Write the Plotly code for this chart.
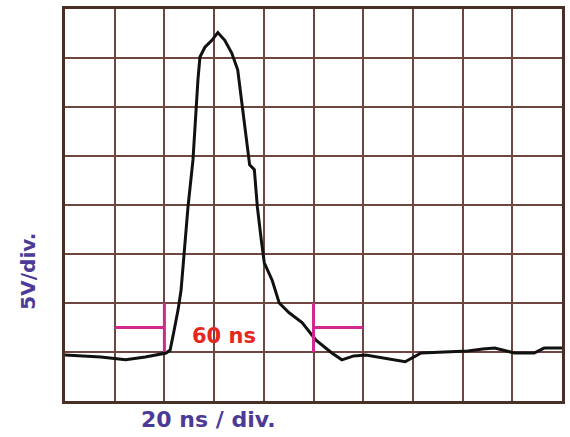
import plotly.graph_objects as go

# time (ns) and voltage (V)
time_ns = [0, 6.4, 14.4, 24.4, 32.3, 40.7, 42.3, 43.9, 45.5, 46.7, 47.9, 49.5, 51.5, 52.7,
           53.5, 54.3, 56.3, 59.1, 61.5, 64.3, 67.1, 69.5, 71.5, 73.5, 74.3, 76.2, 77.4,
           79.0, 80.2, 83.4, 86.2, 90.2, 95.4, 101.0, 107.4, 111.4, 116.2, 121.0, 126.1,
           132.1, 136.9, 143.3, 152.1, 162.1, 168.1, 172.9, 180.8, 188.8, 192.8, 200]
volts = [4.7, 4.6, 4.5, 4.2, 4.5, 4.9, 5.2, 7.2, 9.3, 11.3, 14.7, 19.8, 24.6, 29.7,
         32.8, 35.1, 36.1, 36.8, 37.6, 36.8, 35.5, 33.8, 29.7, 25.6, 24.1, 23.6, 19.8,
         16.4, 14.1, 12.3, 10.0, 9.0, 8.0, 6.2, 4.9, 4.2, 4.6, 4.7, 4.5,
         4.2, 4.0, 4.9, 5.0, 5.1, 5.3, 5.4, 4.9, 4.9, 5.4, 5.4]

# pulse width marker (ns) and levels (V)
marker_start, marker_end = 40, 100
marker_arm = 20
marker_low, marker_high, marker_mid = 5, 10, 7.5
width_label = "60 ns"
label_x, label_y = 64, 6.6
x_label = "20 ns / div."
y_label = "5V/div."

MAG = "#d0288c"
GRID = "#6e4640"
TXT = "#4b3a96"

fig = go.Figure()
fig.add_trace(go.Scatter(x=time_ns, y=volts, mode="lines",
                         line=dict(color="#111111", width=3), hoverinfo="skip"))

# magenta width markers
fig.add_trace(go.Scatter(
    x=[marker_start, marker_start, None, marker_start - marker_arm, marker_start, None,
       marker_end, marker_end, None, marker_end, marker_end + marker_arm],
    y=[marker_low, marker_high, None, marker_mid, marker_mid, None,
       marker_low, marker_high, None, marker_mid, marker_mid],
    mode="lines", line=dict(color=MAG, width=3), hoverinfo="skip"))

fig.add_annotation(x=label_x, y=label_y, text="<b>" + width_label + "</b>",
                   showarrow=False, font=dict(family="DejaVu Sans", size=21, color="#e8261e"),
                   xanchor="center", yanchor="middle")

fig.add_annotation(x=0, y=-0.048, xref="x domain", yref="y domain", text="<b>" + x_label + "</b>",
                   showarrow=False, font=dict(family="DejaVu Sans", size=22, color=TXT),
                   xanchor="left", yanchor="middle", xshift=74)
fig.add_annotation(x=0, y=0.33, xref="x domain", yref="y domain", text="<b>" + y_label + "</b>",
                   showarrow=False, textangle=-90,
                   font=dict(family="DejaVu Sans", size=20, color=TXT),
                   xanchor="center", yanchor="middle", xshift=-37)

axis_common = dict(showgrid=True, gridcolor=GRID, gridwidth=2, zeroline=False,
                   showline=True, linecolor="#4a2e28", linewidth=3, mirror=True,
                   showticklabels=False, ticks="", fixedrange=True)
fig.update_xaxes(range=[0, 200], dtick=20, **axis_common)
fig.update_yaxes(range=[0, 40], dtick=5, **axis_common)

fig.update_layout(width=570, height=437, margin=dict(l=65, r=5, t=9, b=36),
                  paper_bgcolor="white", plot_bgcolor="white", showlegend=False,
                  font=dict(family="DejaVu Sans"))

fig.write_html("out.html", config={"displayModeBar": False},
               post_script="document.body.style.margin='0';document.body.style.overflow='hidden';")
